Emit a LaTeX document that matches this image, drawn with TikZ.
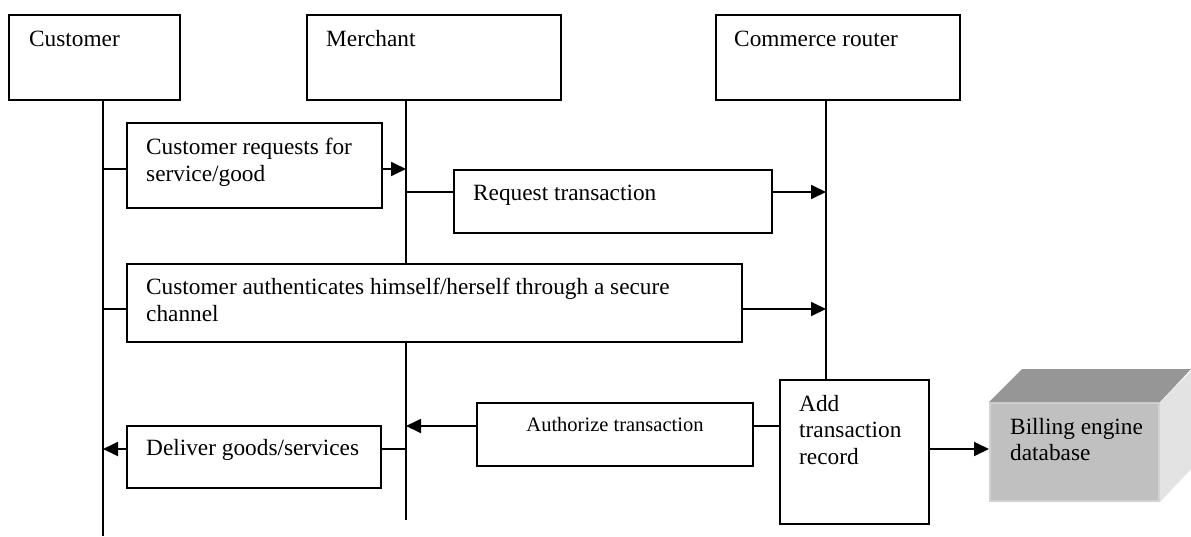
\documentclass[tikz,border=0pt]{standalone}
\usepackage{fontspec}
\setmainfont{Liberation Serif}
\usetikzlibrary{arrows.meta,calc}
% left-aligned block of lines whose baseline is the first line
\newcommand\stacklines[1]{\begin{tabular}[t]{@{}l@{}}#1\end{tabular}}
\definecolor{dbfront}{RGB}{192,192,192}
\definecolor{dbedge}{RGB}{210,210,210}
\definecolor{dbtop}{RGB}{150,150,150}
\definecolor{dbside}{RGB}{227,227,227}
\begin{document}
\begin{tikzpicture}[x=1pt,y=-1pt,
  box/.style={draw=black, line width=2pt, fill=white, inner sep=0pt, anchor=north west},
  wire/.style={line width=1.8pt},
  msg/.style={wire, -{Triangle[length=15pt,width=14pt]}},
  lbl/.style={inner sep=0pt, anchor=base west, font=\fontsize{23.3}{27}\selectfont},
]
\fill[white] (0,0) rectangle (1191,536);
\useasboundingbox (0,0) rectangle (1191,536);

% participants
\node[box, minimum width=171pt, minimum height=85pt] (cust)   at (8,14)   {};
\node[box, minimum width=254pt, minimum height=85pt] (merch)  at (306,14) {};
\node[box, minimum width=244pt, minimum height=85pt] (router) at (715,14) {};
\node[lbl] (cust-l)   at ($(cust.north west)+(21,32)$)   {Customer};
\node[lbl] (merch-l)  at ($(merch.north west)+(20,32)$)  {Merchant};
\node[lbl] (router-l) at ($(router.north west)+(19,32)$) {Commerce router};

% activity boxes
\node[box, minimum width=255pt, minimum height=85pt] (req)   at (126,122) {};
\node[box, minimum width=318pt, minimum height=63pt] (rtx)   at (453,169) {};
\node[box, minimum width=615pt, minimum height=78pt] (auth)  at (126,263) {};
\node[box, minimum width=276pt, minimum height=63pt] (authz) at (476,402) {};
\node[box, minimum width=254pt, minimum height=62pt] (deliv) at (126,425) {};
\node[box, minimum width=149pt, minimum height=144pt] (add)  at (779,379) {};

\node[lbl] (req-l)   at ($(req.north west)+(20,32)$)   {\stacklines{Customer requests for\\service/good}};
\node[lbl] (rtx-l)   at ($(rtx.north west)+(20,31)$)   {Request transaction};
\node[lbl] (auth-l)  at ($(auth.north west)+(20,31)$)  {\stacklines{Customer authenticates himself/herself through a secure\\channel}};
\node[inner sep=0pt, anchor=base, font=\fontsize{20.5}{24}\selectfont] (authz-l)
  at ($(authz.north)+(0,29)$) {Authorize transaction};
\node[lbl] (deliv-l) at ($(deliv.north west)+(20,30)$) {Deliver goods/services};
\node[lbl, font=\fontsize{23.3}{26.5}\selectfont] (add-l) at ($(add.north west)+(20,32)$) {\stacklines{Add\\transaction\\record}};

% billing engine database block
\node[fill=dbfront, draw=dbedge, line width=2pt, inner sep=0pt, anchor=north west,
      minimum width=169pt, minimum height=98pt] (bill) at (989,402) {};
\fill[dbtop]  (bill.north west) -- ++(33,-33) -- ++(169,0) -- (bill.north east) -- cycle;
\fill[dbside] (bill.north east) -- ++(33,-33) -- ++(0,98) -- (bill.south east) -- cycle;
\node[lbl, font=\fontsize{23.3}{26}\selectfont] (bill-l) at ($(bill.north west)+(21,32)$) {\stacklines{Billing engine\\database}};

% lifeline positions and message rows
\coordinate (cx) at (103,536);
\coordinate (mx) at (406,520);
\coordinate (rx) at (826,0);
\coordinate (r1) at (0,169);
\coordinate (r2) at (0,192);
\coordinate (r3) at (0,309);
\coordinate (r4) at (0,426);
\coordinate (r5) at (0,449);

% lifelines
\draw[wire] (cust.south -| cx) -- (cx);
\draw[wire] (merch.south -| mx) -- (auth.north -| mx);
\draw[wire] (auth.south -| mx) -- (mx);
\draw[wire] (router.south -| rx) -- (add.north -| rx);

% messages
\draw[wire] (r1 -| cx) -- (r1 -| req.west);
\draw[msg]  (r1 -| req.east) -- (r1 -| mx);
\draw[wire] (r2 -| mx) -- (r2 -| rtx.west);
\draw[msg]  (r2 -| rtx.east) -- (r2 -| rx);
\draw[wire] (r3 -| cx) -- (r3 -| auth.west);
\draw[msg]  (r3 -| auth.east) -- (r3 -| rx);
\draw[wire] (r4 -| add.west) -- (r4 -| authz.east);
\draw[msg]  (r4 -| authz.west) -- (r4 -| mx);
\draw[wire] (r5 -| mx) -- (r5 -| deliv.east);
\draw[msg]  (r5 -| deliv.west) -- (r5 -| cx);
\draw[msg]  (r5 -| add.east) -- (r5 -| bill.west);
\end{tikzpicture}
\end{document}
